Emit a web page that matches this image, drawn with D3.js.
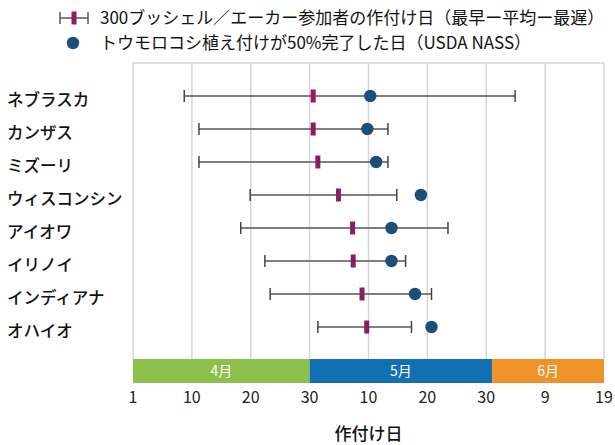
<!DOCTYPE html>
<html>
<head>
<meta charset="utf-8">
<script src="https://cdn.jsdelivr.net/npm/d3@7"></script>
<style>
  body { margin: 0; background: #fff; }
  text { font-family: "Noto Sans CJK JP", "Noto Sans", sans-serif; }
</style>
</head>
<body>
<svg width="615" height="445"></svg>
<script>
// states, top to bottom
var states = ["ネブラスカ", "カンザス", "ミズーリ", "ウィスコンシン", "アイオワ", "イリノイ", "インディアナ", "オハイオ"];
// planting dates as day index (April 1 = 0 on the axis, May 10 = 40, June 9 = 70)
var earliest = [8.7, 11.2, 11.2, 19.9, 18.3, 22.4, 23.3, 31.4];
var average  = [30.6, 30.6, 31.4, 34.9, 37.3, 37.4, 38.9, 39.7];
var latest   = [64.9, 43.3, 43.3, 44.8, 53.5, 46.3, 50.7, 47.3];
var nass50   = [40.3, 39.8, 41.3, 48.9, 43.9, 43.9, 47.9, 50.7];

var tickValues = [0, 10, 20, 30, 40, 50, 60, 70, 80];
var tickLabels = ["1", "10", "20", "30", "10", "20", "30", "9", "19"];
var months = ["4月", "5月", "6月"];
var monthStart = [0, 30, 61];
var monthEnd = [30, 61, 80];
var monthColors = ["#8dc04b", "#1270b2", "#ef9229"];

var legendLabels = ["300ブッシェル／エーカー参加者の作付け日（最早ー平均ー最遅）", "トウモロコシ植え付けが50%完了した日（USDA NASS）"];

var svg = d3.select("svg");

var x = d3.scaleLinear().domain([0, 80]).range([133, 604]);
var y = d3.scalePoint().domain(states).range([96, 327]);

var gridTop = 63, bandTop = 359, bandBottom = 383;

//grid
svg.append("line")
    .attr("x1", x(0)).attr("x2", x(80))
    .attr("y1", gridTop).attr("y2", gridTop)
    .attr("stroke", "#d6d6d6").attr("stroke-width", 1.5);

svg.append("g").selectAll("line")
    .data(tickValues)
    .enter().append("line")
    .attr("x1", function(d) { return x(d); })
    .attr("x2", function(d) { return x(d); })
    .attr("y1", gridTop).attr("y2", bandTop)
    .attr("stroke", "#d6d6d6").attr("stroke-width", 1.5);

//month bands
var mb = svg.append("g").selectAll("g")
    .data(months)
    .enter().append("g");

mb.append("rect")
    .attr("x", function(d, i) { return x(monthStart[i]); })
    .attr("width", function(d, i) { return x(monthEnd[i]) - x(monthStart[i]); })
    .attr("y", bandTop).attr("height", bandBottom - bandTop)
    .attr("fill", function(d, i) { return monthColors[i]; });

mb.append("text")
    .attr("x", function(d, i) { return (x(monthStart[i]) + x(monthEnd[i])) / 2; })
    .attr("y", (bandTop + bandBottom) / 2 + 5)
    .attr("text-anchor", "middle")
    .attr("fill", "#fff")
    .style("font-size", "14px")
    .text(function(d) { return d; });

//tick labels
svg.append("g").selectAll("text")
    .data(tickValues)
    .enter().append("text")
    .attr("x", function(d) { return x(d); })
    .attr("y", 403)
    .attr("text-anchor", "middle")
    .attr("fill", "#222")
    .style("font-size", "16px")
    .text(function(d, i) { return tickLabels[i]; });

svg.append("text")
    .attr("x", (x(0) + x(80)) / 2)
    .attr("y", 440)
    .attr("text-anchor", "middle")
    .attr("fill", "#111")
    .style("font-size", "17px")
    .style("font-weight", "500")
    .text("作付け日");

//state labels
svg.append("g").selectAll("text")
    .data(states)
    .enter().append("text")
    .attr("x", 7)
    .attr("y", function(d) { return y(d) + 10; })
    .attr("fill", "#111")
    .style("font-size", "16.5px")
    .style("font-weight", "500")
    .text(function(d) { return d; });

//error bars
var rows = svg.append("g").selectAll("g")
    .data(states)
    .enter().append("g");

rows.append("line")
    .attr("x1", function(d, i) { return x(earliest[i]); })
    .attr("x2", function(d, i) { return x(latest[i]); })
    .attr("y1", function(d) { return y(d); })
    .attr("y2", function(d) { return y(d); })
    .attr("stroke", "#555").attr("stroke-width", 1.5);

[earliest, latest].forEach(function(arr) {
  rows.append("line")
      .attr("x1", function(d, i) { return x(arr[i]); })
      .attr("x2", function(d, i) { return x(arr[i]); })
      .attr("y1", function(d) { return y(d) - 6; })
      .attr("y2", function(d) { return y(d) + 6; })
      .attr("stroke", "#444").attr("stroke-width", 1.5);
});

rows.append("rect")
    .attr("x", function(d, i) { return x(average[i]) - 2.5; })
    .attr("y", function(d) { return y(d) - 6.5; })
    .attr("width", 5).attr("height", 13)
    .attr("fill", "#8b1e60");

rows.append("circle")
    .attr("cx", function(d, i) { return x(nass50[i]); })
    .attr("cy", function(d) { return y(d); })
    .attr("r", 6.2)
    .attr("fill", "#1d4e78");

//legend
var lg = svg.append("g");
lg.append("line").attr("x1", 60).attr("x2", 88).attr("y1", 18).attr("y2", 18)
    .attr("stroke", "#555").attr("stroke-width", 1.5);
lg.append("line").attr("x1", 60).attr("x2", 60).attr("y1", 12).attr("y2", 24)
    .attr("stroke", "#555").attr("stroke-width", 1.5);
lg.append("line").attr("x1", 88).attr("x2", 88).attr("y1", 12).attr("y2", 24)
    .attr("stroke", "#555").attr("stroke-width", 1.5);
lg.append("rect").attr("x", 71.5).attr("y", 11.5).attr("width", 5).attr("height", 13)
    .attr("fill", "#8b1e60");
lg.append("circle").attr("cx", 73).attr("cy", 43).attr("r", 6.2).attr("fill", "#1d4e78");

lg.selectAll("text.leg")
    .data(legendLabels)
    .enter().append("text")
    .attr("class", "leg")
    .attr("x", 100)
    .attr("y", function(d, i) { return 24 + i * 25; })
    .attr("fill", "#111")
    .style("font-size", "17px")
    .text(function(d) { return d; });
</script>
</body>
</html>
